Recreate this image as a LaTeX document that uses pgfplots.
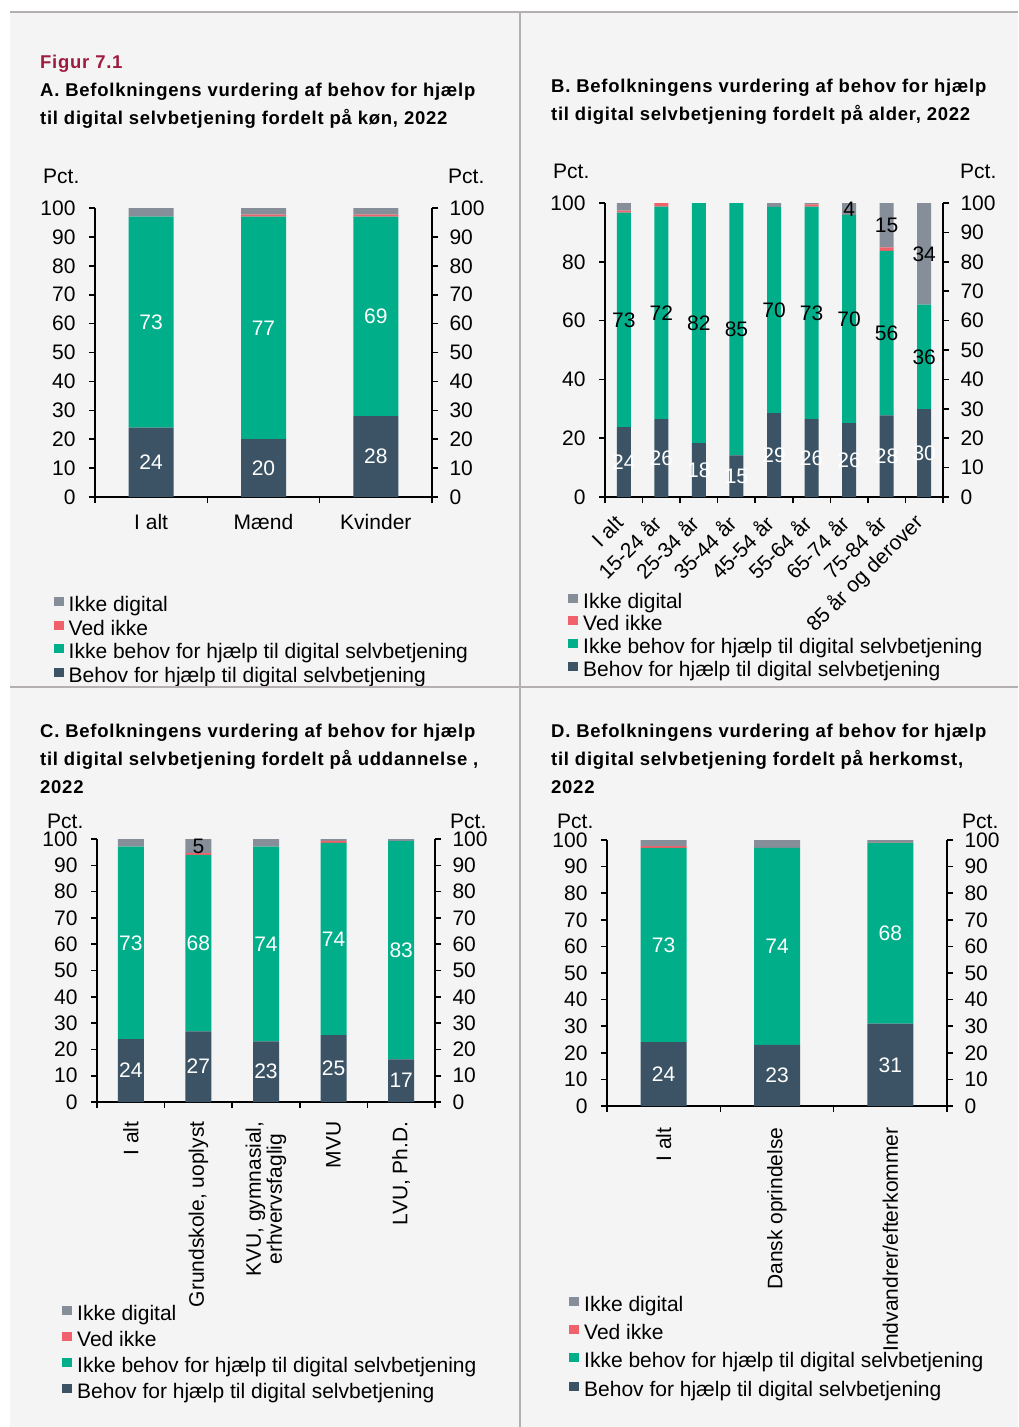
\documentclass[border=0pt]{standalone}
\usepackage{fontspec}
\setmainfont{Liberation Sans}
\newfontfamily\titlefam[LetterSpace=4]{Liberation Sans}
\usepackage{pgfplots}
\usepackage{pgfplotstable}
\pgfplotsset{compat=1.18}
\definecolor{cBehov}{RGB}{59,83,100}
\definecolor{cIkke}{RGB}{0,175,138}
\definecolor{cVed}{RGB}{240,97,108}
\definecolor{cDig}{RGB}{134,143,153}
\definecolor{bgc}{RGB}{244,244,244}
\definecolor{divc}{RGB}{180,176,176}
\definecolor{figred}{RGB}{158,27,63}
\newcommand\tickfont{\fontsize{21}{21}\selectfont}
\newcommand\legfont{\fontsize{21}{21}\selectfont}
\newcommand\titlefont{\titlefam\fontsize{18.5}{18.5}\selectfont\bfseries}

\pgfplotstableread{
x behov ikke ved dig
0 24 73 0 3
1 20 77 0.7 2.3
2 28 69 0.7 2.3
}\dataA
\pgfplotstableread{
x y l
0 12 24
1 10 20
2 14 28
0 60.5 73
1 58.5 77
2 62.5 69
}\labWA

\pgfplotstableread{
x behov ikke ved dig
0 23.8 72.9 0.7 2.6
1 26.5 72.3 1.2 0
2 18.3 81.7 0 0
3 14.2 85.8 0 0
4 28.5 70.2 0 1.3
5 26.5 72.3 0.7 0.5
6 25.1 70.9 0 4
7 27.8 55.9 1.25 15
8 29.9 35.5 0 34.6
}\dataB
\pgfplotstableread{
x y l
0 11.9 24
1 13.25 26
2 9.15 18
3 7.1 15
4 14.25 29
5 13.25 26
6 12.55 26
7 13.9 28
8 14.95 30
}\labWB
\pgfplotstableread{
x y l
0 60.25 73
1 62.65 72
2 59.15 82
3 57.1 85
4 63.6 70
5 62.65 73
6 60.55 70
7 55.75 56
8 47.65 36
6 98 4
7 92.45 15
8 82.7 34
}\labKB

\pgfplotstableread{
x behov ikke ved dig
0 23.9 73.2 0 2.9
1 26.9 67.1 0.6 5.4
2 23.1 74 0 2.9
3 25.4 73.1 0.75 0.75
4 16.2 83 0 0.8
}\dataC
\pgfplotstableread{
x y l
0 11.95 24
1 13.45 27
2 11.55 23
3 12.7 25
4 8.1 17
0 60.5 73
1 60.45 68
2 60.1 74
3 61.95 74
4 57.7 83
}\labWC
\pgfplotstableread{
x y l
1 97.3 5
}\labKC

\pgfplotstableread{
x behov ikke ved dig
0 24 73 0.7 2.3
1 23 74 0 3
2 31 68 0.2 0.8
}\dataD
\pgfplotstableread{
x y l
0 12 24
1 11.5 23
2 15.5 31
0 60.5 73
1 60 74
2 65 68
}\labWD

\pgfplotsset{
  base/.style={scale only axis, anchor=south west, ymin=0, ymax=100, xmin=-0.5,
    enlargelimits=false, clip=false,
    axis line style={line width=1.6pt, black},
    tick style={line width=1.6pt, black},
    tick align=outside, major tick length=6pt,
    tick label style={font=\tickfont},
    /pgf/number format/assume math mode=true},
  main/.style={base, ybar stacked, axis y line*=left, axis x line*=bottom,
    x tick label as interval,
    yticklabel style={xshift=-10pt},
    reverse legend,
    legend style={draw=none, fill=none, anchor=north west, font=\legfont,
      nodes={inner sep=0pt, text height=15pt, text depth=4pt}},
    legend cell align=left,
    every axis plot post/.append style={draw=none,
      legend image code/.code={\fill[##1] (0pt,0pt) rectangle (10pt,9pt); \path (15pt,0pt);}}},
  second/.style={base, axis y line*=right, axis x line=none, yticklabel style={xshift=8pt}},
  labw/.style={only marks, mark=none, nodes near coords, point meta=explicit symbolic,
    nodes near coords style={font=\tickfont, text=white, anchor=center}},
  labk/.style={only marks, mark=none, nodes near coords, point meta=explicit symbolic,
    nodes near coords style={font=\tickfont, text=black, anchor=center}},
}
\tikzset{ttl/.style={anchor=base west, inner sep=0pt, font=\titlefont},
  pct/.style={anchor=base west, inner sep=0pt, font=\tickfont}}
\newcommand\bars[1]{%
  \addplot[fill=cBehov] table[x=x,y=behov]{#1};
  \addplot[fill=cIkke] table[x=x,y=ikke]{#1};
  \addplot[fill=cVed] table[x=x,y=ved]{#1};
  \addplot[fill=cDig] table[x=x,y=dig]{#1};
  \legend{Behov for hjælp til digital selvbetjening, Ikke behov for hjælp til digital selvbetjening, Ved ikke, Ikke digital}%
}

\begin{document}
\begin{tikzpicture}
\fill[white] (0pt,0pt) rectangle (1018pt,-1427pt);
\fill[bgc] (10pt,-12pt) rectangle (1018pt,-1427pt);

% ---------- Panel A ----------
\node[ttl, text=figred] at (40pt,-68pt) {Figur 7.1};
\node[ttl] at (40pt,-96pt) {A. Befolkningens vurdering af behov for hjælp};
\node[ttl] at (40pt,-124pt) {til digital selvbetjening fordelt på køn, 2022};
\node[pct] at (43pt,-183pt) {Pct.};
\node[pct] at (448pt,-183pt) {Pct.};
\begin{axis}[main, at={(95pt,-497pt)}, width=337pt, height=289pt, xmax=2.5,
  bar width=45pt, ytick={0,10,...,100},
  xtick={-0.5,0.5,1.5,2.5}, xticklabels={I alt,Mænd,Kvinder},
  x tick label style={yshift=-8pt},
  legend style={at={(-0.132,-0.3374)}, row sep=4.5pt}]
\bars{\dataA}
\end{axis}
\begin{axis}[second, at={(95pt,-497pt)}, width=337pt, height=289pt, xmax=2.5, ytick={0,10,...,100}]
\addplot[labw] table[x=x,y=y,meta=l]{\labWA};
\end{axis}

% ---------- Panel B ----------
\node[ttl] at (551pt,-92pt) {B. Befolkningens vurdering af behov for hjælp};
\node[ttl] at (551pt,-120pt) {til digital selvbetjening fordelt på alder, 2022};
\node[pct] at (553pt,-178pt) {Pct.};
\node[pct] at (960pt,-178pt) {Pct.};
\begin{axis}[main, at={(605pt,-497pt)}, width=338pt, height=294pt, xmax=8.5,
  bar width=14pt, ytick={0,20,...,100},
  xtick={-0.5,0.5,...,8.5},
  xticklabels={I alt,15-24 år,25-34 år,35-44 år,45-54 år,55-64 år,65-74 år,75-84 år,85 år og derover},
  x tick label style={yshift=-14pt, xshift=-2pt, rotate=45, anchor=east},
  legend style={at={(-0.1183,-0.3197)}, row sep=3.7pt}]
\bars{\dataB}
\end{axis}
\begin{axis}[second, at={(605pt,-497pt)}, width=338pt, height=294pt, xmax=8.5, ytick={0,10,...,100}]
\addplot[labw] table[x=x,y=y,meta=l]{\labWB};
\addplot[labk] table[x=x,y=y,meta=l]{\labKB};
\end{axis}

% ---------- Panel C ----------
\node[ttl] at (40pt,-737pt) {C. Befolkningens vurdering af behov for hjælp};
\node[ttl] at (40pt,-765pt) {til digital selvbetjening fordelt på uddannelse ,};
\node[ttl] at (40pt,-793pt) {2022};
\node[pct] at (47pt,-828pt) {Pct.};
\node[pct] at (450pt,-828pt) {Pct.};
\begin{axis}[main, at={(97pt,-1102pt)}, width=338pt, height=263pt, xmax=4.5,
  bar width=26pt, ytick={0,10,...,100},
  xtick={-0.5,0.5,...,4.5},
  xticklabels={I alt,{Grundskole, uoplyst},{KVU, gymnasial,\\erhvervsfaglig},MVU,{LVU, Ph.D.}},
  x tick label style={yshift=-10pt, rotate=90, anchor=east, align=center},
  legend style={at={(-0.1124,-0.7643)}, row sep=7pt}]
\bars{\dataC}
\end{axis}
\begin{axis}[second, at={(97pt,-1102pt)}, width=338pt, height=263pt, xmax=4.5, ytick={0,10,...,100}]
\addplot[labw] table[x=x,y=y,meta=l]{\labWC};
\addplot[labk] table[x=x,y=y,meta=l]{\labKC};
\end{axis}

% ---------- Panel D ----------
\node[ttl] at (551pt,-737pt) {D. Befolkningens vurdering af behov for hjælp};
\node[ttl] at (551pt,-765pt) {til digital selvbetjening fordelt på herkomst,};
\node[ttl] at (551pt,-793pt) {2022};
\node[pct] at (557pt,-828pt) {Pct.};
\node[pct] at (962pt,-828pt) {Pct.};
\begin{axis}[main, at={(607pt,-1106pt)}, width=340pt, height=266pt, xmax=2.5,
  bar width=46pt, ytick={0,10,...,100},
  xtick={-0.5,0.5,1.5,2.5},
  xticklabels={I alt,Dansk oprindelse,Indvandrer/efterkommer},
  x tick label style={yshift=-12pt, rotate=90, anchor=east},
  legend style={at={(-0.1206,-0.7068)}, row sep=9.3pt}]
\bars{\dataD}
\end{axis}
\begin{axis}[second, at={(607pt,-1106pt)}, width=340pt, height=266pt, xmax=2.5, ytick={0,10,...,100}]
\addplot[labw] table[x=x,y=y,meta=l]{\labWD};
\end{axis}

% dividers
\draw[divc, line width=2pt] (10pt,-12pt) -- (1018pt,-12pt);
\draw[divc, line width=2pt] (520pt,-12pt) -- (520pt,-1427pt);
\draw[divc, line width=2pt] (10pt,-686.5pt) -- (1018pt,-686.5pt);
\pgfresetboundingbox
\path[use as bounding box] (0pt,0pt) rectangle (1018pt,-1427pt);
\end{tikzpicture}
\end{document}
